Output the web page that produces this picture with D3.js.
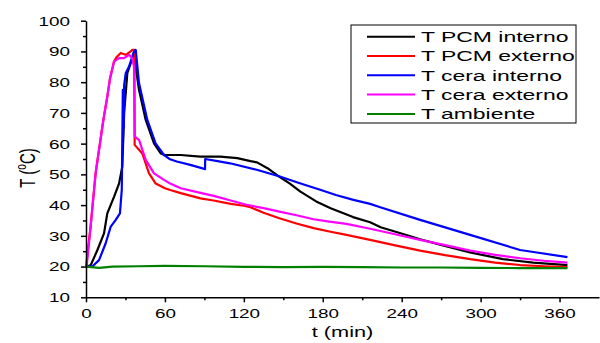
<!DOCTYPE html>
<html>
<head>
<meta charset="utf-8">
<script src="https://cdn.jsdelivr.net/npm/d3@7"></script>
<style>
    html, body { margin: 0; padding: 0; background: #fff; }
    svg { display: block; font-family: "Liberation Sans", Arial, sans-serif; }
</style>
</head>
<body>
<svg id="chart"></svg>
<script>
// Time (min) and temperature (°C), one pair of arrays per curve
const tPcmInt = [0, 3.5, 8.6, 13.7, 16.2, 21.3, 25.1, 27.6, 29, 31.4, 34, 36.5, 40.3, 45.4, 51.7, 56.8, 60, 64, 72, 87, 102, 115, 125, 130, 138, 145, 155, 163, 175, 186, 203, 216, 224, 241, 254, 267, 292, 317, 340, 366];
const vPcmInt = [20, 20.4, 25.3, 30.8, 37.3, 42.7, 47, 52.5, 70, 82.9, 86.2, 88.9, 77.5, 67.7, 60.1, 56.8, 56.3, 56.3, 56.3, 55.8, 55.8, 55.3, 54.3, 53.9, 52, 49.8, 47, 44.4, 41.2, 39, 36.1, 34.4, 32.8, 30.6, 28.9, 27.4, 24.6, 22.4, 21.3, 20.5];

const tPcmExt = [0, 3.5, 7.3, 9.9, 13.2, 16.2, 18.3, 21.3, 23, 26.4, 30.2, 34, 35.2, 36.8, 37, 42.8, 47.9, 53, 60, 64, 72, 87, 97, 110, 120, 125, 135, 147, 160, 173, 185, 198, 216, 235, 254, 273, 292, 311, 330, 348, 366];
const vPcmExt = [20, 33, 50.3, 58, 67.7, 75.3, 81.3, 86.7, 88, 89.5, 88.9, 90, 90.5, 90.5, 59.6, 56.8, 50.3, 47, 45.5, 44.9, 43.9, 42.2, 41.5, 40.4, 39.8, 39.3, 37.5, 35.7, 34, 32.5, 31.4, 30.3, 28.7, 26.9, 25.2, 23.7, 22.4, 21.3, 20.5, 20.1, 19.8];

const tCeraInt = [0, 4.8, 9.9, 14.9, 18.8, 22.5, 25.8, 27.2, 27.6, 28, 28.2, 28.4, 28.7, 29, 30.2, 32.7, 36.5, 37.8, 40.3, 46.6, 52.9, 59.3, 63.9, 69, 80, 90.5, 90.6, 100, 109.5, 129.8, 147.3, 162, 178, 190, 203.3, 216, 223.7, 254, 292, 330, 366];
const vCeraInt = [20, 20, 22.1, 27.5, 33, 35.1, 37.3, 45, 61.2, 77.5, 62, 76, 65, 79, 82.9, 85.1, 90, 90.5, 79.7, 67.7, 60.1, 56.3, 54.9, 54.2, 53, 51.7, 55, 54.3, 53.6, 51.5, 49.3, 47.2, 45, 43.3, 41.7, 40.4, 39.3, 35.2, 30.3, 25.4, 23.1];

const tCeraExt = [0, 0.5, 3.5, 7.3, 9.9, 13.2, 16.2, 18.3, 21.3, 25.1, 28.9, 32.7, 35.2, 36.5, 37, 40.3, 45.4, 51.7, 59.3, 64, 72, 87, 97, 110, 122, 135, 147, 160, 173, 185, 198, 216, 235, 254, 273, 292, 311, 330, 348, 366];
const vCeraExt = [20, 20, 33, 50.3, 58, 67.7, 75.3, 81.3, 86.7, 87.8, 87.8, 88.9, 87.8, 85, 62.3, 61.2, 54.7, 50.3, 48.2, 47, 45.5, 44, 43, 41.5, 40.1, 39, 37.9, 36.7, 35.4, 34.6, 33.9, 32.3, 30.5, 28.7, 27, 25.2, 23.8, 22.7, 21.9, 21.3];

const tAmb = [0, 10, 20, 40, 60, 90, 120, 150, 180, 210, 240, 270, 300, 330, 366];
const vAmb = [20, 19.6, 20, 20.1, 20.2, 20.1, 19.9, 19.8, 19.9, 19.8, 19.7, 19.7, 19.6, 19.5, 19.5];

const seriesNames = ['T PCM interno', 'T PCM externo', 'T cera interno', 'T cera externo', 'T ambiente'];
const seriesColors = ['#000000', '#ff0000', '#0000ff', '#ff00ff', '#008000'];

const xTicks = [0, 60, 120, 180, 240, 300, 360];
const xMinor = [30, 90, 150, 210, 270, 330];
const yTicks = [10, 20, 30, 40, 50, 60, 70, 80, 90, 100];
const yMinor = [15, 25, 35, 45, 55, 65, 75, 85, 95];

const width = 600;
const height = 343;
const stretch = 1.45; // the picture's text is wider than it is tall
const legendStretch = 1.53;

const svg = d3.select('#chart')
    .attr('width', width)
    .attr('height', height);

const xScale = d3.scaleLinear().domain([0, 390]).range([86, 599]);
const yScale = d3.scaleLinear().domain([10, 100]).range([297.3, 20.7]);

const series = [
    { t: tPcmInt, v: vPcmInt },
    { t: tPcmExt, v: vPcmExt },
    { t: tCeraInt, v: vCeraInt },
    { t: tCeraExt, v: vCeraExt },
    { t: tAmb, v: vAmb }
].map((s, i) => ({ name: seriesNames[i], color: seriesColors[i], points: d3.zip(s.t, s.v) }));

const line = d3.line()
    .x(d => xScale(d[0]))
    .y(d => yScale(d[1]));

// Curves
svg.selectAll('.curve')
    .data(series)
    .enter()
    .append('path')
    .attr('class', 'curve')
    .attr('d', d => line(d.points))
    .attr('fill', 'none')
    .attr('stroke', d => d.color)
    .attr('stroke-width', 2.2)
    .attr('stroke-linejoin', 'round');

// X Axis
const xAxis = svg.append('g')
    .attr('transform', `translate(0,${yScale(10)})`)
    .call(d3.axisBottom(xScale).tickValues(xTicks).tickSize(5).tickSizeOuter(0));
xAxis.selectAll('text')
    .attr('y', 21)
    .attr('dy', 0)
    .attr('transform', `scale(${stretch},1)`);

svg.append('g')
    .attr('transform', `translate(0,${yScale(10)})`)
    .call(d3.axisBottom(xScale).tickValues(xMinor).tickSize(3).tickFormat(''))
    .select('.domain').remove();

// Y Axis
const yAxis = svg.append('g')
    .attr('transform', `translate(${xScale(0)},0)`)
    .call(d3.axisLeft(yScale).tickValues(yTicks).tickSize(5).tickSizeOuter(0));
yAxis.selectAll('text')
    .attr('x', -16 / stretch)
    .attr('dy', '0.34em')
    .attr('transform', `scale(${stretch},1)`);

svg.append('g')
    .attr('transform', `translate(${xScale(0)},0)`)
    .call(d3.axisLeft(yScale).tickValues(yMinor).tickSize(3).tickFormat(''))
    .select('.domain').remove();

svg.selectAll('.domain, .tick line')
    .attr('stroke', '#000')
    .attr('stroke-width', 1.5);
svg.selectAll('.tick text')
    .attr('font-size', '13px')
    .attr('font-family', '"Liberation Sans", Arial, sans-serif')
    .attr('fill', '#000');

// Axis Labels
svg.append('text')
    .attr('transform', `translate(${(86 + 599) / 2},337) scale(${stretch},1)`)
    .attr('text-anchor', 'middle')
    .attr('font-size', '15px')
    .text('t (min)');

const yLabel = svg.append('text')
    .attr('transform', `translate(35,168) rotate(-90) scale(1,${stretch})`)
    .attr('text-anchor', 'middle')
    .attr('font-size', '15px');
yLabel.append('tspan').text('T (');
yLabel.append('tspan').attr('font-size', '10px').attr('dy', -6).text('o');
yLabel.append('tspan').attr('dy', 6).text('C)');

// Legend
const legend = svg.append('g');
legend.append('rect')
    .attr('x', 351)
    .attr('y', 25)
    .attr('width', 225)
    .attr('height', 98)
    .attr('fill', '#fff')
    .attr('stroke', '#000')
    .attr('stroke-width', 1);

const rows = legend.selectAll('.row')
    .data(series)
    .enter()
    .append('g')
    .attr('class', 'row')
    .attr('transform', (d, i) => `translate(0,${36.7 + i * 19.3})`);

rows.append('line')
    .attr('x1', 367)
    .attr('x2', 415)
    .attr('stroke', d => d.color)
    .attr('stroke-width', 2);

rows.append('text')
    .attr('transform', `translate(421,5.3) scale(${legendStretch},1)`)
    .attr('font-size', '15px')
    .attr('fill', '#000')
    .text(d => d.name);
</script>
</body>
</html>
